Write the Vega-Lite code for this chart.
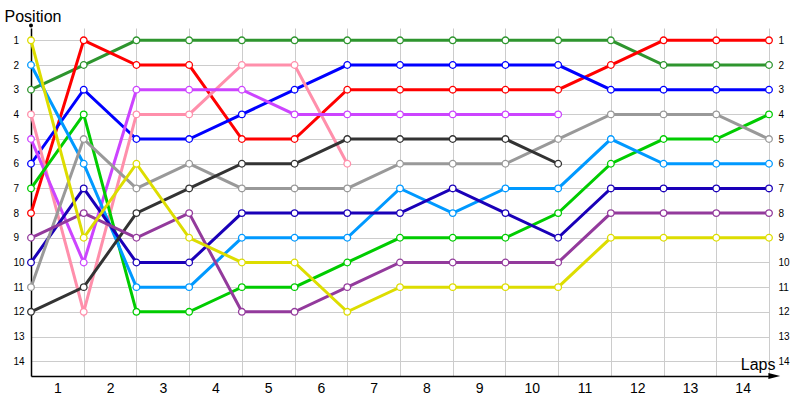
{
  "$schema": "https://vega.github.io/schema/vega-lite/v6.json",
  "description": "Lap chart: race position of each car per lap",
  "width": 738,
  "height": 348,
  "autosize": "none",
  "padding": {"left": 31, "top": 28, "right": 31, "bottom": 24},
  "background": "white",
  "config": {"view": {"stroke": null}, "font": "Liberation Sans"},
  "datasets": {
    "laps": [
      {"car": "dgreen", "lap": 0, "pos": 3}, {"car": "dgreen", "lap": 1, "pos": 2}, {"car": "dgreen", "lap": 2, "pos": 1}, {"car": "dgreen", "lap": 3, "pos": 1}, {"car": "dgreen", "lap": 4, "pos": 1}, {"car": "dgreen", "lap": 5, "pos": 1}, {"car": "dgreen", "lap": 6, "pos": 1}, {"car": "dgreen", "lap": 7, "pos": 1}, {"car": "dgreen", "lap": 8, "pos": 1}, {"car": "dgreen", "lap": 9, "pos": 1}, {"car": "dgreen", "lap": 10, "pos": 1}, {"car": "dgreen", "lap": 11, "pos": 1}, {"car": "dgreen", "lap": 12, "pos": 2}, {"car": "dgreen", "lap": 13, "pos": 2}, {"car": "dgreen", "lap": 14, "pos": 2},
      {"car": "red", "lap": 0, "pos": 8}, {"car": "red", "lap": 1, "pos": 1}, {"car": "red", "lap": 2, "pos": 2}, {"car": "red", "lap": 3, "pos": 2}, {"car": "red", "lap": 4, "pos": 5}, {"car": "red", "lap": 5, "pos": 5}, {"car": "red", "lap": 6, "pos": 3}, {"car": "red", "lap": 7, "pos": 3}, {"car": "red", "lap": 8, "pos": 3}, {"car": "red", "lap": 9, "pos": 3}, {"car": "red", "lap": 10, "pos": 3}, {"car": "red", "lap": 11, "pos": 2}, {"car": "red", "lap": 12, "pos": 1}, {"car": "red", "lap": 13, "pos": 1}, {"car": "red", "lap": 14, "pos": 1},
      {"car": "blue", "lap": 0, "pos": 6}, {"car": "blue", "lap": 1, "pos": 3}, {"car": "blue", "lap": 2, "pos": 5}, {"car": "blue", "lap": 3, "pos": 5}, {"car": "blue", "lap": 4, "pos": 4}, {"car": "blue", "lap": 5, "pos": 3}, {"car": "blue", "lap": 6, "pos": 2}, {"car": "blue", "lap": 7, "pos": 2}, {"car": "blue", "lap": 8, "pos": 2}, {"car": "blue", "lap": 9, "pos": 2}, {"car": "blue", "lap": 10, "pos": 2}, {"car": "blue", "lap": 11, "pos": 3}, {"car": "blue", "lap": 12, "pos": 3}, {"car": "blue", "lap": 13, "pos": 3}, {"car": "blue", "lap": 14, "pos": 3},
      {"car": "pink", "lap": 0, "pos": 4}, {"car": "pink", "lap": 1, "pos": 12}, {"car": "pink", "lap": 2, "pos": 4}, {"car": "pink", "lap": 3, "pos": 4}, {"car": "pink", "lap": 4, "pos": 2}, {"car": "pink", "lap": 5, "pos": 2}, {"car": "pink", "lap": 6, "pos": 6},
      {"car": "violet", "lap": 0, "pos": 5}, {"car": "violet", "lap": 1, "pos": 10}, {"car": "violet", "lap": 2, "pos": 3}, {"car": "violet", "lap": 3, "pos": 3}, {"car": "violet", "lap": 4, "pos": 3}, {"car": "violet", "lap": 5, "pos": 4}, {"car": "violet", "lap": 6, "pos": 4}, {"car": "violet", "lap": 7, "pos": 4}, {"car": "violet", "lap": 8, "pos": 4}, {"car": "violet", "lap": 9, "pos": 4}, {"car": "violet", "lap": 10, "pos": 4},
      {"car": "bgreen", "lap": 0, "pos": 7}, {"car": "bgreen", "lap": 1, "pos": 4}, {"car": "bgreen", "lap": 2, "pos": 12}, {"car": "bgreen", "lap": 3, "pos": 12}, {"car": "bgreen", "lap": 4, "pos": 11}, {"car": "bgreen", "lap": 5, "pos": 11}, {"car": "bgreen", "lap": 6, "pos": 10}, {"car": "bgreen", "lap": 7, "pos": 9}, {"car": "bgreen", "lap": 8, "pos": 9}, {"car": "bgreen", "lap": 9, "pos": 9}, {"car": "bgreen", "lap": 10, "pos": 8}, {"car": "bgreen", "lap": 11, "pos": 6}, {"car": "bgreen", "lap": 12, "pos": 5}, {"car": "bgreen", "lap": 13, "pos": 5}, {"car": "bgreen", "lap": 14, "pos": 4},
      {"car": "sky", "lap": 0, "pos": 2}, {"car": "sky", "lap": 1, "pos": 6}, {"car": "sky", "lap": 2, "pos": 11}, {"car": "sky", "lap": 3, "pos": 11}, {"car": "sky", "lap": 4, "pos": 9}, {"car": "sky", "lap": 5, "pos": 9}, {"car": "sky", "lap": 6, "pos": 9}, {"car": "sky", "lap": 7, "pos": 7}, {"car": "sky", "lap": 8, "pos": 8}, {"car": "sky", "lap": 9, "pos": 7}, {"car": "sky", "lap": 10, "pos": 7}, {"car": "sky", "lap": 11, "pos": 5}, {"car": "sky", "lap": 12, "pos": 6}, {"car": "sky", "lap": 13, "pos": 6}, {"car": "sky", "lap": 14, "pos": 6},
      {"car": "navy", "lap": 0, "pos": 10}, {"car": "navy", "lap": 1, "pos": 7}, {"car": "navy", "lap": 2, "pos": 10}, {"car": "navy", "lap": 3, "pos": 10}, {"car": "navy", "lap": 4, "pos": 8}, {"car": "navy", "lap": 5, "pos": 8}, {"car": "navy", "lap": 6, "pos": 8}, {"car": "navy", "lap": 7, "pos": 8}, {"car": "navy", "lap": 8, "pos": 7}, {"car": "navy", "lap": 9, "pos": 8}, {"car": "navy", "lap": 10, "pos": 9}, {"car": "navy", "lap": 11, "pos": 7}, {"car": "navy", "lap": 12, "pos": 7}, {"car": "navy", "lap": 13, "pos": 7}, {"car": "navy", "lap": 14, "pos": 7},
      {"car": "gray", "lap": 0, "pos": 11}, {"car": "gray", "lap": 1, "pos": 5}, {"car": "gray", "lap": 2, "pos": 7}, {"car": "gray", "lap": 3, "pos": 6}, {"car": "gray", "lap": 4, "pos": 7}, {"car": "gray", "lap": 5, "pos": 7}, {"car": "gray", "lap": 6, "pos": 7}, {"car": "gray", "lap": 7, "pos": 6}, {"car": "gray", "lap": 8, "pos": 6}, {"car": "gray", "lap": 9, "pos": 6}, {"car": "gray", "lap": 10, "pos": 5}, {"car": "gray", "lap": 11, "pos": 4}, {"car": "gray", "lap": 12, "pos": 4}, {"car": "gray", "lap": 13, "pos": 4}, {"car": "gray", "lap": 14, "pos": 5},
      {"car": "black", "lap": 0, "pos": 12}, {"car": "black", "lap": 1, "pos": 11}, {"car": "black", "lap": 2, "pos": 8}, {"car": "black", "lap": 3, "pos": 7}, {"car": "black", "lap": 4, "pos": 6}, {"car": "black", "lap": 5, "pos": 6}, {"car": "black", "lap": 6, "pos": 5}, {"car": "black", "lap": 7, "pos": 5}, {"car": "black", "lap": 8, "pos": 5}, {"car": "black", "lap": 9, "pos": 5}, {"car": "black", "lap": 10, "pos": 6},
      {"car": "dpurple", "lap": 0, "pos": 9}, {"car": "dpurple", "lap": 1, "pos": 8}, {"car": "dpurple", "lap": 2, "pos": 9}, {"car": "dpurple", "lap": 3, "pos": 8}, {"car": "dpurple", "lap": 4, "pos": 12}, {"car": "dpurple", "lap": 5, "pos": 12}, {"car": "dpurple", "lap": 6, "pos": 11}, {"car": "dpurple", "lap": 7, "pos": 10}, {"car": "dpurple", "lap": 8, "pos": 10}, {"car": "dpurple", "lap": 9, "pos": 10}, {"car": "dpurple", "lap": 10, "pos": 10}, {"car": "dpurple", "lap": 11, "pos": 8}, {"car": "dpurple", "lap": 12, "pos": 8}, {"car": "dpurple", "lap": 13, "pos": 8}, {"car": "dpurple", "lap": 14, "pos": 8},
      {"car": "yellow", "lap": 0, "pos": 1}, {"car": "yellow", "lap": 1, "pos": 9}, {"car": "yellow", "lap": 2, "pos": 6}, {"car": "yellow", "lap": 3, "pos": 9}, {"car": "yellow", "lap": 4, "pos": 10}, {"car": "yellow", "lap": 5, "pos": 10}, {"car": "yellow", "lap": 6, "pos": 12}, {"car": "yellow", "lap": 7, "pos": 11}, {"car": "yellow", "lap": 8, "pos": 11}, {"car": "yellow", "lap": 9, "pos": 11}, {"car": "yellow", "lap": 10, "pos": 11}, {"car": "yellow", "lap": 11, "pos": 9}, {"car": "yellow", "lap": 12, "pos": 9}, {"car": "yellow", "lap": 13, "pos": 9}, {"car": "yellow", "lap": 14, "pos": 9}
    ]
  },
  "layer": [
    {
      "data": {"name": "laps"},
      "mark": {"type": "line", "strokeWidth": 3, "interpolate": "linear"},
      "encoding": {
        "x": {
          "field": "lap", "type": "quantitative",
          "scale": {"domain": [0, 14], "nice": false, "zero": false},
          "axis": {
            "values": [0, 1, 2, 3, 4, 5, 6, 7, 8, 9, 10, 11, 12, 13, 14],
            "grid": true, "gridColor": "#cccccc", "gridWidth": 1,
            "ticks": false,
            "labelExpr": "datum.value < 14 ? '' + (datum.value + 1) : ''",
            "labelOffset": 26.36, "labelOverlap": false, "labelFlush": false,
            "labelFontSize": 14, "labelColor": "#000000", "labelPadding": 5,
            "domainColor": "#000000", "domainWidth": 1.5,
            "title": "Laps", "titleFontSize": 16, "titleFontWeight": "normal", "titleColor": "#000000",
            "titleAlign": "right", "titleBaseline": "alphabetic", "titleX": 744, "titleY": -7
          }
        },
        "y": {
          "field": "pos", "type": "quantitative",
          "scale": {"domain": [0.5, 14.6], "reverse": true, "nice": false, "zero": false},
          "axis": {
            "values": [1, 2, 3, 4, 5, 6, 7, 8, 9, 10, 11, 12, 13, 14],
            "grid": true, "gridColor": "#cccccc", "gridWidth": 1,
            "ticks": false,
            "labelAlign": "left", "labelPadding": 18, "labelFontSize": 10, "labelColor": "#000000",
            "domainColor": "#000000", "domainWidth": 1.5,
            "title": "Position", "titleFontSize": 16, "titleFontWeight": "normal", "titleColor": "#000000",
            "titleAngle": 0, "titleAlign": "left", "titleBaseline": "alphabetic", "titleX": -27, "titleY": -7
          }
        },
        "color": {
          "field": "car", "type": "nominal", "legend": null,
          "scale": {
            "domain": ["dgreen", "red", "blue", "pink", "violet", "bgreen", "sky", "navy", "gray", "black", "dpurple", "yellow"],
            "range": ["#2e952e", "#ff0000", "#0000ff", "#ff8fab", "#cc44ff", "#00cc00", "#0099ff", "#1a00b8", "#999999", "#333333", "#933a9c", "#dddd00"]
          }
        },
        "order": {"field": "lap", "type": "quantitative"}
      }
    },
    {
      "data": {"name": "laps"},
      "mark": {"type": "circle", "fill": "white", "fillOpacity": 1, "opacity": 1, "strokeWidth": 1.3, "size": 44},
      "encoding": {
        "x": {
          "field": "lap", "type": "quantitative",
          "scale": {"domain": [0, 14], "nice": false, "zero": false},
          "axis": {
            "values": [0, 1, 2, 3, 4, 5, 6, 7, 8, 9, 10, 11, 12, 13, 14],
            "grid": true, "gridColor": "#cccccc", "gridWidth": 1,
            "ticks": false,
            "labelExpr": "datum.value < 14 ? '' + (datum.value + 1) : ''",
            "labelOffset": 26.36, "labelOverlap": false, "labelFlush": false,
            "labelFontSize": 14, "labelColor": "#000000", "labelPadding": 5,
            "domainColor": "#000000", "domainWidth": 1.5,
            "title": "Laps", "titleFontSize": 16, "titleFontWeight": "normal", "titleColor": "#000000",
            "titleAlign": "right", "titleBaseline": "alphabetic", "titleX": 744, "titleY": -7
          }
        },
        "y": {
          "field": "pos", "type": "quantitative",
          "scale": {"domain": [0.5, 14.6], "reverse": true, "nice": false, "zero": false},
          "axis": {
            "orient": "right",
            "values": [1, 2, 3, 4, 5, 6, 7, 8, 9, 10, 11, 12, 13, 14],
            "grid": false, "ticks": false, "domain": false,
            "labelAlign": "left", "labelPadding": 9, "labelFontSize": 10, "labelColor": "#000000",
            "title": null
          }
        },
        "stroke": {
          "field": "car", "type": "nominal", "legend": null,
          "scale": {
            "domain": ["dgreen", "red", "blue", "pink", "violet", "bgreen", "sky", "navy", "gray", "black", "dpurple", "yellow"],
            "range": ["#2e952e", "#ff0000", "#0000ff", "#ff8fab", "#cc44ff", "#00cc00", "#0099ff", "#1a00b8", "#999999", "#333333", "#933a9c", "#dddd00"]
          }
        }
      }
    },
    {
      "data": {"values": [{"lap": 0, "pos": 0.4}]},
      "mark": {"type": "circle", "color": "#000000", "opacity": 1, "size": 16},
      "encoding": {
        "x": {
          "field": "lap", "type": "quantitative",
          "scale": {"domain": [0, 14], "nice": false, "zero": false},
          "axis": {
            "values": [0, 1, 2, 3, 4, 5, 6, 7, 8, 9, 10, 11, 12, 13, 14],
            "grid": true, "gridColor": "#cccccc", "gridWidth": 1,
            "ticks": false,
            "labelExpr": "datum.value < 14 ? '' + (datum.value + 1) : ''",
            "labelOffset": 26.36, "labelOverlap": false, "labelFlush": false,
            "labelFontSize": 14, "labelColor": "#000000", "labelPadding": 5,
            "domainColor": "#000000", "domainWidth": 1.5,
            "title": "Laps", "titleFontSize": 16, "titleFontWeight": "normal", "titleColor": "#000000",
            "titleAlign": "right", "titleBaseline": "alphabetic", "titleX": 744, "titleY": -7
          }
        },
        "y": {"field": "pos", "type": "quantitative", "axis": null, "scale": {"domain": [0.5, 14.6], "reverse": true, "nice": false, "zero": false}}
      }
    },
    {
      "data": {"values": [{"lap": 14.1, "pos": 14.6}]},
      "mark": {"type": "point", "shape": "M-1,-0.5L1,0L-1,0.5Z", "filled": true, "color": "#000000", "opacity": 1, "size": 140},
      "encoding": {
        "x": {
          "field": "lap", "type": "quantitative",
          "scale": {"domain": [0, 14], "nice": false, "zero": false},
          "axis": {
            "values": [0, 1, 2, 3, 4, 5, 6, 7, 8, 9, 10, 11, 12, 13, 14],
            "grid": true, "gridColor": "#cccccc", "gridWidth": 1,
            "ticks": false,
            "labelExpr": "datum.value < 14 ? '' + (datum.value + 1) : ''",
            "labelOffset": 26.36, "labelOverlap": false, "labelFlush": false,
            "labelFontSize": 14, "labelColor": "#000000", "labelPadding": 5,
            "domainColor": "#000000", "domainWidth": 1.5,
            "title": "Laps", "titleFontSize": 16, "titleFontWeight": "normal", "titleColor": "#000000",
            "titleAlign": "right", "titleBaseline": "alphabetic", "titleX": 744, "titleY": -7
          }
        },
        "y": {"field": "pos", "type": "quantitative", "axis": null, "scale": {"domain": [0.5, 14.6], "reverse": true, "nice": false, "zero": false}}
      }
    }
  ],
  "resolve": {"scale": {"y": "independent"}}
}
